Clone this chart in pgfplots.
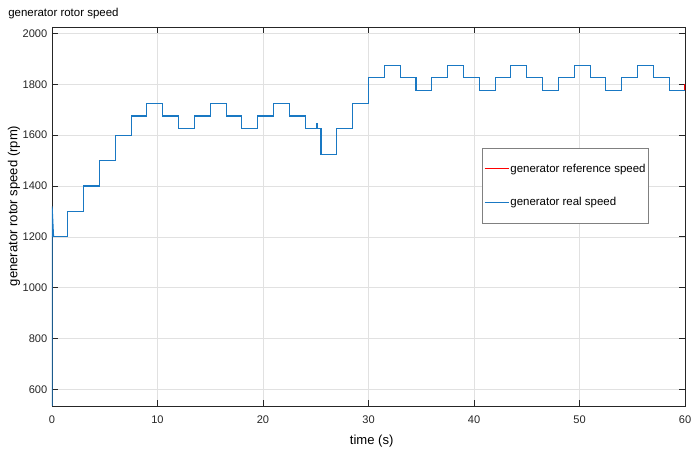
\documentclass[border=0pt]{standalone}
\usepackage{fontspec}
\setmainfont{Liberation Sans}
\usepackage{pgfplots}
\pgfplotsset{compat=1.18}

\definecolor{mblue}{RGB}{25,120,195}
\definecolor{axgray}{RGB}{38,38,38}
\definecolor{gridgray}{RGB}{225,225,225}

\begin{document}
\begin{tikzpicture}
\useasboundingbox (-39pt,-32.25pt) rectangle (479.25pt,304.5pt);
\begin{axis}[
  scale only axis,
  width=474.75pt, height=284.25pt,
  xmin=0, xmax=60, ymin=535, ymax=2025,
  xtick={0,10,...,60},
  ytick={600,800,...,2000},
  grid=major,
  major grid style={gridgray, line width=0.5pt},
  axis line style={axgray, line width=0.6pt},
  tick style={axgray, line width=0.6pt},
  tick align=inside,
  major tick length=4.5pt,
  /pgf/number format/assume math mode=true,
  /pgf/number format/1000 sep={},
  tick label style={font=\fontsize{8.3}{10}\selectfont, text=axgray},
  xticklabel style={yshift=-3.5pt},
  label style={font=\fontsize{9.8}{12}\selectfont, text=black},
  xlabel={time (s)},
  ylabel={generator rotor speed (rpm)},
  xlabel style={at={(axis description cs:0.505,0)}, anchor=center, yshift=-26pt},
  ylabel style={at={(axis description cs:-0.06,0.528)}, anchor=center},
  title={generator rotor speed},
  every axis title shift=0pt,
  title style={at={(axis description cs:0,1)}, anchor=base west, inner sep=0pt, xshift=-33pt, yshift=7.5pt, font=\fontsize{8.6}{10}\selectfont},
  legend cell align=left,
  legend style={at={(0.679,0.681)}, anchor=north west, draw=gray, line width=0.5pt,
    font=\fontsize{8.6}{10}\selectfont, inner xsep=1.5pt, inner ysep=11pt,
    row sep=16.5pt, nodes={inner sep=0.6pt}},
  legend image code/.code={\draw[#1, line width=0.6pt] (0pt,0pt) -- (18.5pt,0pt);},
]
\addplot[red, line width=0.8pt, const plot] coordinates {
 (0,1200) (1.5,1300) (3,1400) (4.5,1500) (6,1600) (7.5,1675) (9,1725)
 (10.5,1675) (12,1625) (13.5,1675) (15,1725) (16.5,1675) (18,1625)
 (19.5,1675) (21,1725) (22.5,1675) (24,1625) (25.5,1525) (27,1625)
 (28.5,1725) (30,1825) (31.5,1875) (33,1825) (34.5,1775) (36,1825)
 (37.5,1875) (39,1825) (40.5,1775) (42,1825) (43.5,1875) (45,1825)
 (46.5,1775) (48,1825) (49.5,1875) (51,1825) (52.5,1775) (54,1825)
 (55.5,1875) (57,1825) (58.5,1775) (60,1800)
};
\addlegendentry{generator reference speed}
\addplot[mblue, line width=0.8pt, const plot] coordinates {
 (0,1200) (1.5,1300) (3,1400) (4.5,1500) (6,1600) (7.5,1675) (9,1725)
 (10.5,1675) (12,1625) (13.5,1675) (15,1725) (16.5,1675) (18,1625)
 (19.5,1675) (21,1725) (22.5,1675) (24,1625) (25.1,1645) (25.13,1625)
 (25.5,1525) (27,1625)
 (28.5,1725) (30,1825) (31.5,1875) (33,1825) (34.5,1775) (36,1825)
 (37.5,1875) (39,1825) (40.5,1775) (42,1825) (43.5,1875) (45,1825)
 (46.5,1775) (48,1825) (49.5,1875) (51,1825) (52.5,1775) (54,1825)
 (55.5,1875) (57,1825) (58.5,1775) (60,1775)
};
\addlegendentry{generator real speed}
\addplot[mblue, line width=0.8pt, forget plot] coordinates {
 (0,0) (0.01,1320) (0.15,1200)
};
\end{axis}
\end{tikzpicture}
\end{document}
